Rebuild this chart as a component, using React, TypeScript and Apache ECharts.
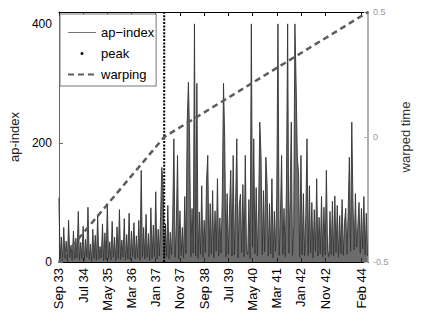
import React, { useEffect, useRef } from 'react';
import * as echarts from 'echarts';

// ap-index sampled every half month starting Sep 1933
const apIndex = [
  108, 4, 42, 2, 58, 6, 35, 1, 70, 8, 28, 3, 52, 5, 40, 7,
  85, 3, 33, 6, 60, 2, 38, 8, 92, 4, 30, 1, 55, 6, 45, 3,
  78, 5, 26, 7, 64, 2, 49, 4, 96, 6, 34, 3, 68, 8, 42, 2,
  59, 6, 88, 4, 37, 8, 73, 3, 46, 5, 82, 4, 52, 9, 66, 5,
  44, 7, 70, 3, 154, 9, 58, 5, 80, 8, 48, 3, 91, 6, 62, 9,
  118, 5, 55, 10, 76, 159, 132, 6, 64, 9, 95, 5, 50, 12, 72, 207,
  8, 60, 179, 5, 86, 11, 58, 7, 110, 14, 235, 302, 209, 9, 90, 15,
  400, 10, 300, 6, 84, 13, 128, 8, 70, 16, 138, 179, 9, 98, 14, 120,
  7, 86, 18, 140, 10, 74, 15, 108, 300, 207, 9, 115, 13, 90, 154, 10,
  179, 12, 100, 207, 7, 95, 114, 16, 130, 9, 179, 20, 12, 105, 6, 400,
  25, 207, 14, 125, 10, 88, 235, 179, 12, 120, 17, 176, 132, 10, 98, 14,
  140, 7, 85, 18, 110, 400, 11, 72, 179, 13, 90, 9, 125, 400, 15, 105,
  235, 11, 60, 400, 300, 176, 150, 8, 179, 12, 115, 10, 80, 207, 11, 128,
  15, 100, 7, 88, 18, 140, 10, 75, 14, 110, 8, 92, 12, 154, 20, 9,
  85, 12, 102, 10, 111, 16, 95, 8, 78, 14, 105, 11, 66, 90, 13, 82,
  176, 18, 235, 95, 20, 115, 25, 60, 100, 15, 90, 22, 110, 12, 82, 10,
];
const sampleStepMonths = 0.5;

const tickMonths = [0, 10, 20, 30, 40, 50, 60, 70, 80, 90, 100, 110, 125];
const tickLabels = [
  'Sep 33', 'Jul 34', 'May 35', 'Mar 36', 'Jan 37', 'Nov 37', 'Sep 38',
  'Jul 39', 'May 40', 'Mar 41', 'Jan 42', 'Nov 42', 'Feb 44',
];
const apTicks = [0, 200, 400];

const peakMonth = 43.5;
const warpMonths = [0, 43.5, 127.7];
const warpValues = [-0.5, 0, 0.5];

const X_MAX = 127.7;
const Y_MAX = 420;

export default function App() {
  const ref = useRef<HTMLDivElement>(null);
  useEffect(() => {
    if (!ref.current) return;
    const chart = echarts.init(ref.current, null, { renderer: 'svg' });
    const font = '"Liberation Sans", Arial, Helvetica, sans-serif';
    const xLabel = (v: number) => {
      const k = tickMonths.indexOf(Math.round(v * 10) / 10);
      return k >= 0 ? tickLabels[k] : '';
    };
    chart.setOption({
      animation: false,
      textStyle: { fontFamily: font },
      grid: { left: 57, right: 68, top: 12, bottom: 65 },
      legend: {
        left: 60,
        top: 14,
        orient: 'vertical',
        backgroundColor: '#fff',
        borderColor: '#777',
        borderWidth: 1,
        borderRadius: 0,
        padding: [8, 2, 1, 7],
        itemWidth: 28,
        itemHeight: 3,
        itemGap: 0,
        selectedMode: false,
        textStyle: { fontSize: 13, color: '#000', lineHeight: 21, fontFamily: font },
        data: [
          { name: 'ap−index', itemStyle: { opacity: 0 }, lineStyle: { color: '#777', width: 1 } },
          { name: 'peak', icon: 'circle' },
          { name: 'warping', itemStyle: { opacity: 0 } },
        ],
      },
      xAxis: [
        {
          type: 'value',
          min: 0,
          max: X_MAX,
          position: 'bottom',
          axisLine: { show: true, onZero: false, lineStyle: { color: '#000', width: 1 } },
          axisTick: { show: true, inside: true, length: 4, customValues: tickMonths, lineStyle: { color: '#000' } },
          axisLabel: {
            customValues: tickMonths,
            rotate: 90,
            margin: 6,
            fontSize: 13,
            color: '#000',
            fontFamily: font,
            formatter: xLabel,
          },
          splitLine: { show: false },
        },
        {
          type: 'value',
          min: 0,
          max: X_MAX,
          position: 'top',
          axisLine: { show: true, onZero: false, lineStyle: { color: '#000', width: 1 } },
          axisTick: { show: true, inside: true, length: 4, customValues: tickMonths, lineStyle: { color: '#000' } },
          axisLabel: { show: false },
          splitLine: { show: false },
        },
      ],
      yAxis: [
        {
          type: 'value',
          min: 0,
          max: Y_MAX,
          position: 'left',
          axisLine: { show: true, onZero: false, lineStyle: { color: '#666', width: 1 } },
          axisTick: { show: true, inside: true, length: 4, customValues: apTicks, lineStyle: { color: '#666' } },
          axisLabel: { customValues: apTicks, fontSize: 12, color: '#000', margin: 7, fontFamily: font },
          splitLine: { show: false },
          name: 'ap-index',
          nameLocation: 'middle',
          nameGap: 35,
          nameRotate: 90,
          nameTextStyle: { fontSize: 13, color: '#222', fontFamily: font },
        },
        {
          type: 'value',
          min: -0.5,
          max: 0.5,
          interval: 0.5,
          position: 'right',
          axisLine: { show: true, onZero: false, lineStyle: { color: '#b0b0b0', width: 2 } },
          axisTick: { show: true, inside: true, length: 4, lineStyle: { color: '#b0b0b0' } },
          axisLabel: { fontSize: 9, color: '#999', margin: 5, fontFamily: font },
          splitLine: { show: false },
          name: 'warped time',
          nameLocation: 'middle',
          nameGap: 26,
          nameRotate: 90,
          nameTextStyle: { fontSize: 13, color: '#333', fontFamily: font },
        },
      ],
      series: [
        {
          name: 'ap−index',
          type: 'line',
          xAxisIndex: 0,
          yAxisIndex: 0,
          symbol: 'none',
          data: apIndex.map((v, i) => [i * sampleStepMonths, v]),
          lineStyle: { color: '#333', width: 0.9 },
          itemStyle: { color: '#333' },
          areaStyle: { color: '#333', opacity: 0.72 },
          z: 2,
        },
        {
          name: 'peak',
          type: 'line',
          xAxisIndex: 0,
          yAxisIndex: 0,
          symbol: 'none',
          data: [[peakMonth, 0], [peakMonth, Y_MAX]],
          lineStyle: { color: '#000', width: 2, type: [2, 1.4] },
          itemStyle: { color: '#000' },
          z: 3,
        },
        {
          name: 'warping',
          type: 'line',
          xAxisIndex: 0,
          yAxisIndex: 1,
          symbol: 'none',
          data: warpMonths.map((m, i) => [m, warpValues[i]]),
          lineStyle: { color: '#5c5c5c', width: 2.5, type: [6, 4] },
          itemStyle: { color: '#5c5c5c' },
          z: 4,
        },
      ],
    });
    return () => chart.dispose();
  }, []);
  return (
    <div
      ref={ref}
      style={{ position: 'absolute', left: 0, top: 0, width: 436, height: 327, background: '#fff' }}
    />
  );
}
